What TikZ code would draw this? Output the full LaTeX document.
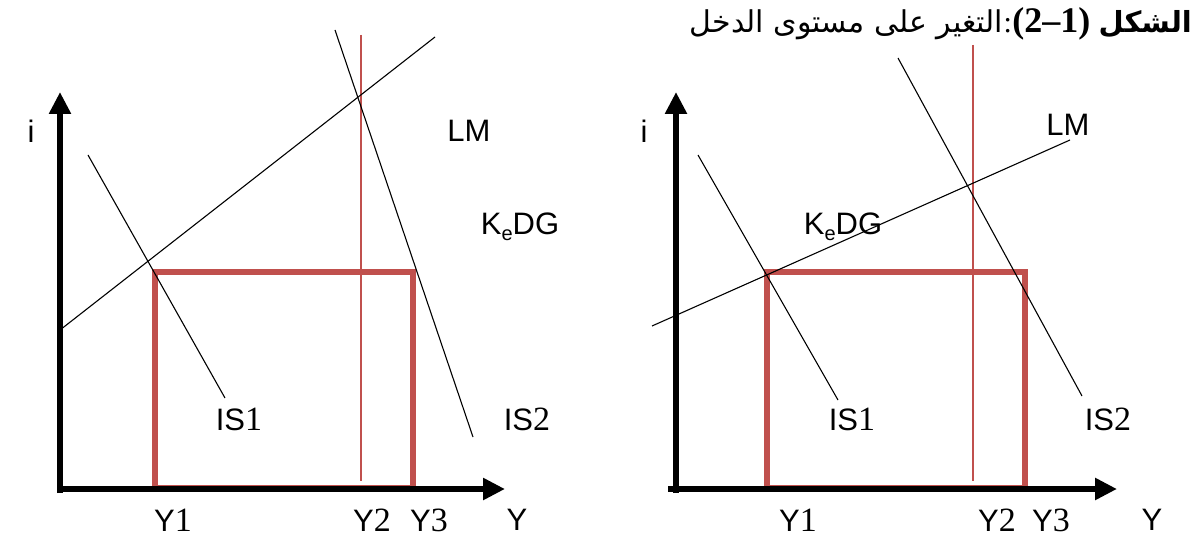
\documentclass[tikz,border=0pt]{standalone}
\usepackage{fontspec}
\setmainfont{Liberation Serif}
\newfontfamily\lsans{Liberation Sans}
\newfontfamily\arabicfont[Script=Arabic]{DejaVu Sans}
\TeXXeTstate=1
\usetikzlibrary{arrows.meta}
\definecolor{boxred}{HTML}{C0504D}
\tikzset{
  axis/.style={line width=6pt,-{Triangle[length=22pt,width=21pt]}},
  curve/.style={line width=1.1pt},
  redbox/.style={draw=boxred,line width=5.5pt},
  redline/.style={draw=boxred,line width=1.2pt},
  lab/.style={font=\fontsize{31}{33}\lsans,inner sep=0pt},
  ttl/.style={inner sep=0pt,anchor=base east},
}
\newcommand{\dg}[1]{{\fontsize{34}{36}\rmfamily #1}}
\newcommand{\Ke}{K\raisebox{-0.35ex}{\fontsize{20}{22}\selectfont e}DG}
\begin{document}
\begin{tikzpicture}[x=1pt,y=-1pt]
\useasboundingbox (0,0) rectangle (1195,540);
% ---------- title ----------
\node[ttl] (tsh) at (1192,33) {\fontsize{29}{31}\arabicfont\bfseries\beginR الشكل\endR};
\node[ttl] (tnum) at ([xshift=-8pt]tsh.base west) {\fontsize{36}{38}\bfseries\rmfamily(2–1)};
\node[ttl] (tcol) at (tnum.base west) {\fontsize{30}{32}\rmfamily:};
\node[ttl] (trest) at (tcol.base west) {\fontsize{30}{32}\arabicfont\beginR التغير على مستوى الدخل\endR};
% ---------- left chart ----------
\coordinate (LYbot) at (60,493);
\coordinate (LYtop) at (60,92);
\coordinate (LXbeg) at (57,489);
\coordinate (LXend) at (505,489);
\coordinate (LLMa) at (60,330);
\coordinate (LLMb) at (435,37);
\coordinate (LIS1a) at (88,155);
\coordinate (LIS1b) at (225,398);
\coordinate (LIS2a) at (335,30);
\coordinate (LIS2b) at (473,437);
\coordinate (LVa) at (361,35);
\coordinate (LVb) at (361,481);
\draw[redbox] (155,488) rectangle (413,272);
\draw[redline] (LVa) -- (LVb);
\draw[curve] (LLMa) -- (LLMb);
\draw[curve] (LIS1a) -- (LIS1b);
\draw[curve] (LIS2a) -- (LIS2b);
\draw[axis] (LYbot) -- (LYtop);
\draw[axis] (LXbeg) -- (LXend);
\node[lab] (li) at (31,131) {i};
\node[lab] (lLM) at (469,131) {LM};
\node[lab] (lKe) at (520,227) {\Ke};
\node[lab] (lIS1) at (239,419) {IS\dg{1}};
\node[lab] (lIS2) at (527,419) {IS\dg{2}};
\node[lab] (lY1) at (173,520) {Y\dg{1}};
\node[lab] (lY2) at (372,520) {Y\dg{2}};
\node[lab] (lY3) at (429,520) {Y\dg{3}};
\node[lab] (lY) at (517,520) {Y};
% ---------- right chart ----------
\coordinate (RYbot) at (676,493);
\coordinate (RYtop) at (676,92);
\coordinate (RXbeg) at (668,489);
\coordinate (RXend) at (1117,489);
\coordinate (RLMa) at (652,326);
\coordinate (RLMb) at (1070,140);
\coordinate (RIS1a) at (698,155);
\coordinate (RIS1b) at (838,400);
\coordinate (RIS2a) at (898,58);
\coordinate (RIS2b) at (1082,396);
\coordinate (RVa) at (973,45);
\coordinate (RVb) at (973,481);
\draw[redbox] (767,488) rectangle (1025,272);
\draw[redline] (RVa) -- (RVb);
\draw[curve] (RLMa) -- (RLMb);
\draw[curve] (RIS1a) -- (RIS1b);
\draw[curve] (RIS2a) -- (RIS2b);
\draw[axis] (RYbot) -- (RYtop);
\draw[axis] (RXbeg) -- (RXend);
\node[lab] (ri) at (644,131) {i};
\node[lab] (rLM) at (1068,125) {LM};
\node[lab] (rKe) at (843,227) {\Ke};
\node[lab] (rIS1) at (852,419) {IS\dg{1}};
\node[lab] (rIS2) at (1108,419) {IS\dg{2}};
\node[lab] (rY1) at (798,520) {Y\dg{1}};
\node[lab] (rY2) at (997,520) {Y\dg{2}};
\node[lab] (rY3) at (1051,520) {Y\dg{3}};
\node[lab] (rY) at (1152,520) {Y};
\end{tikzpicture}
\end{document}
